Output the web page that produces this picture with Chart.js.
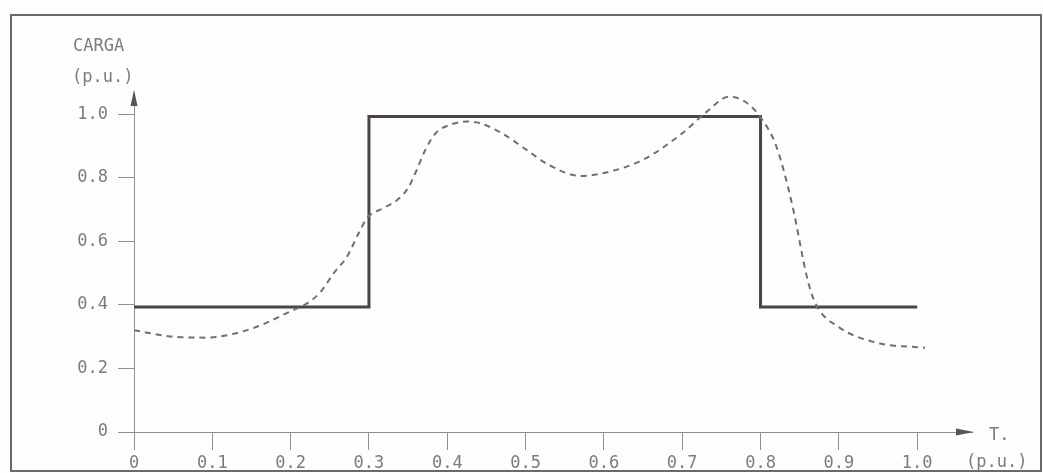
<!DOCTYPE html>
<html>
<head>
<meta charset="utf-8">
<script src="https://cdn.jsdelivr.net/npm/chart.js@4"></script>
<style>
  html, body { margin: 0; padding: 0; background: #fdfdfc; }
  canvas { display: block; }
</style>
</head>
<body>
<canvas id="cargaChart" width="1043" height="473"></canvas>
<script>
// Step load (solid) and smoothed load (dashed), in p.u.
const stepX = [0, 0.3, 0.3, 0.8, 0.8, 1.0];
const stepY = [0.393, 0.393, 0.993, 0.993, 0.393, 0.393];

const curveX = [0, 0.05, 0.09, 0.15, 0.2, 0.221, 0.238, 0.255, 0.272, 0.287, 0.298, 0.319, 0.336, 0.35, 0.361, 0.372, 0.385, 0.404, 0.425, 0.44, 0.47, 0.5, 0.53, 0.57, 0.6, 0.65, 0.7, 0.73, 0.76, 0.78, 0.8, 0.82, 0.84, 0.86, 0.87, 0.9, 0.95, 1.01];
const curveY = [0.32, 0.30, 0.297, 0.325, 0.38, 0.405, 0.44, 0.50, 0.552, 0.626, 0.675, 0.705, 0.73, 0.768, 0.825, 0.888, 0.94, 0.967, 0.977, 0.973, 0.94, 0.89, 0.84, 0.806, 0.815, 0.857, 0.94, 1.005, 1.055, 1.04, 0.99, 0.90, 0.72, 0.48, 0.405, 0.33, 0.28, 0.265];

const xTicks = [0, 0.1, 0.2, 0.3, 0.4, 0.5, 0.6, 0.7, 0.8, 0.9, 1.0];
const yTicks = [0, 0.2, 0.4, 0.6, 0.8, 1.0];

const FONT = "'DejaVu Sans Mono', monospace";
const TEXT = '#7c7c7c';
const AXIS = '#8f8f8f';

function fmt(v) {
    return v === 0 ? '0' : v.toFixed(1);
}

// frame, arrow heads and the loose labels
const decorPlugin = {
    id: 'decor',
    afterDraw(chart) {
        const ctx = chart.ctx;
        const xs = chart.scales.x, ys = chart.scales.y;
        const x0 = xs.getPixelForValue(0);
        const y0 = ys.getPixelForValue(0);
        ctx.save();

        // outer frame
        ctx.strokeStyle = '#6a6a6a';
        ctx.lineWidth = 2;
        ctx.strokeRect(11, 15, 1030, 456);

        // arrow heads
        ctx.fillStyle = '#555';
        const top = ys.top;
        ctx.beginPath();
        ctx.moveTo(x0, top - 2);
        ctx.lineTo(x0 - 3.5, top + 14);
        ctx.lineTo(x0 + 3.5, top + 14);
        ctx.closePath();
        ctx.fill();
        const right = xs.right;
        ctx.beginPath();
        ctx.moveTo(right + 2, y0);
        ctx.lineTo(right - 16, y0 - 3.5);
        ctx.lineTo(right - 16, y0 + 3.5);
        ctx.closePath();
        ctx.fill();

        // axis titles
        ctx.fillStyle = TEXT;
        ctx.font = '17px ' + FONT;
        ctx.textAlign = 'left';
        ctx.textBaseline = 'middle';
        ctx.fillText('CARGA', 73, 47);
        ctx.fillText('(p.u.)', 72, 78);
        ctx.fillText('T.', 989, 436);
        ctx.fillText('(p.u.)', 966, 463);
        ctx.restore();
    }
};

const ctx = document.getElementById('cargaChart').getContext('2d');

new Chart(ctx, {
    type: 'scatter',
    data: {
        datasets: [
            {
                label: 'Carga (degrau)',
                data: stepX.map((x, i) => ({ x: x, y: stepY[i] })),
                showLine: true,
                borderColor: '#4a4544',
                borderWidth: 3,
                pointRadius: 0,
                tension: 0,
                order: 2
            },
            {
                label: 'Carga (suavizada)',
                data: curveX.map((x, i) => ({ x: x, y: curveY[i] })),
                showLine: true,
                borderColor: '#707070',
                borderWidth: 2,
                borderDash: [6, 5],
                pointRadius: 0,
                cubicInterpolationMode: 'monotone',
                order: 1
            }
        ]
    },
    options: {
        responsive: false,
        animation: false,
        layout: {
            padding: { left: 0, top: 92, right: 71, bottom: 0 }
        },
        plugins: {
            legend: { display: false },
            tooltip: { enabled: false }
        },
        scales: {
            x: {
                type: 'linear',
                min: 0,
                max: 1.07,
                afterBuildTicks: (s) => { s.ticks = xTicks.map(v => ({ value: v })); },
                afterFit: (s) => { s.height = 41; },
                grid: {
                    drawOnChartArea: false,
                    drawTicks: true,
                    tickLength: 18,
                    color: AXIS,
                    lineWidth: 1
                },
                border: { display: true, color: AXIS, width: 1 },
                ticks: {
                    color: TEXT,
                    padding: 3,
                    maxRotation: 0,
                    autoSkip: false,
                    font: { size: 17, family: FONT },
                    callback: (v) => fmt(v)
                }
            },
            y: {
                type: 'linear',
                min: 0,
                max: 1.07,
                afterBuildTicks: (s) => { s.ticks = yTicks.map(v => ({ value: v })); },
                afterFit: (s) => { s.width = 134; },
                grid: {
                    drawOnChartArea: false,
                    drawTicks: true,
                    tickLength: 16,
                    color: AXIS,
                    lineWidth: 1
                },
                border: { display: true, color: AXIS, width: 1 },
                ticks: {
                    color: TEXT,
                    padding: 10,
                    autoSkip: false,
                    font: { size: 17, family: FONT },
                    callback: (v) => fmt(v)
                }
            }
        }
    },
    plugins: [decorPlugin]
});
</script>
</body>
</html>
